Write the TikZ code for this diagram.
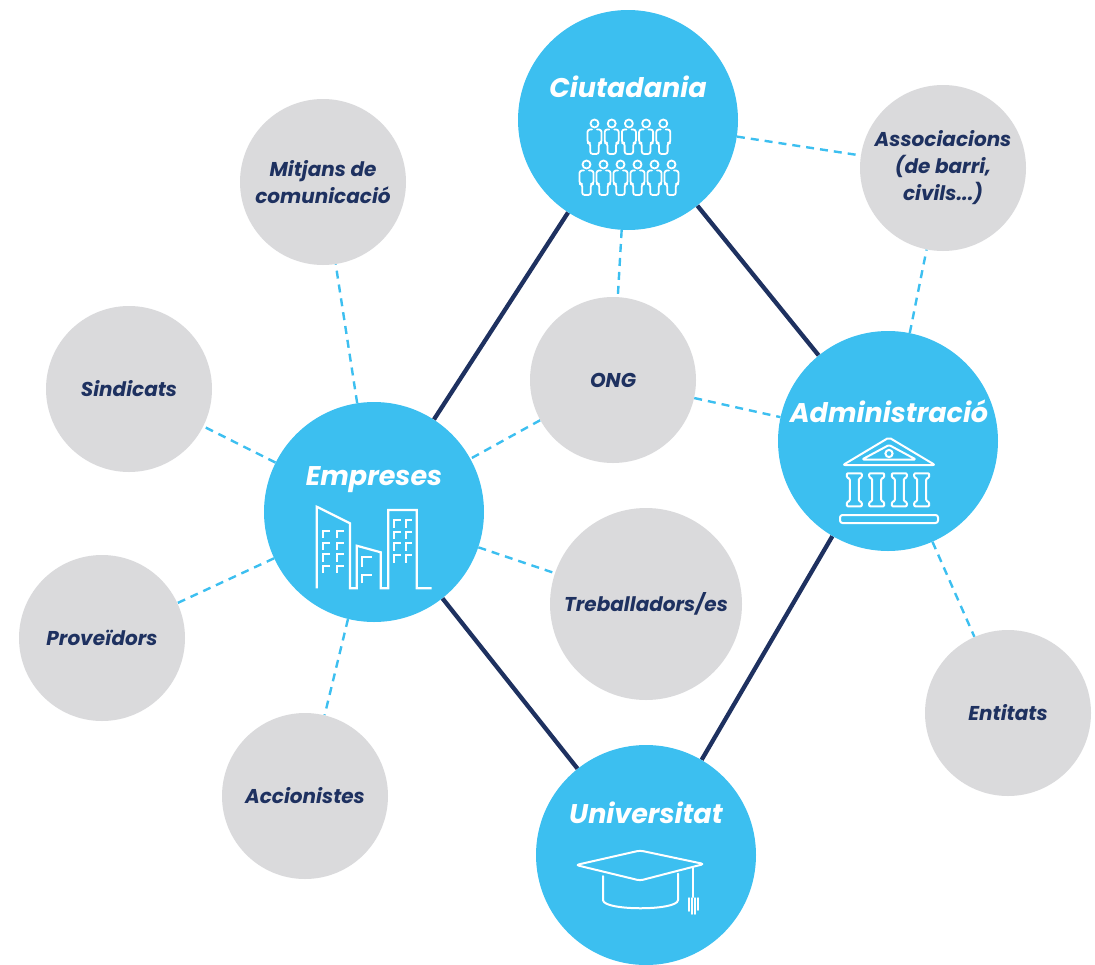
\documentclass[tikz,border=0pt]{standalone}
\usepackage{fontspec}
\setmainfont{Poppins}
\usetikzlibrary{backgrounds}
\definecolor{cblue}{HTML}{3CBFF0}
\definecolor{cgrey}{HTML}{DADADC}
\definecolor{navy}{HTML}{1E3160}
\tikzset{
  bluec/.style={circle, fill=cblue, minimum size=220pt, inner sep=0pt},
  greyc/.style={circle, fill=cgrey, minimum size=166pt, inner sep=0pt, align=center,
     text=navy, font=\fontsize{20}{27}\selectfont\bfseries\itshape},
  bluelabel/.style={anchor=base, text=white, inner sep=0pt, font=\fontsize{27}{32}\selectfont\bfseries\itshape},
  strongline/.style={draw=navy, line width=4.3pt},
  weakline/.style={draw=cblue, line width=2.4pt, dash pattern=on 8pt off 6pt},
  icon/.style={draw=white, line width=2pt, line join=round, line cap=round},
}
\begin{document}
\begin{tikzpicture}[x=1pt,y=-1pt]
\useasboundingbox (0,0) rectangle (1095,964);
% main circles
\node[bluec] (ciu) at (628,120) {};
\node[bluec] (emp) at (374,512) {};
\node[bluec] (adm) at (888,441) {};
\node[bluec] (uni) at (646,855) {};
% grey circles
\node[greyc] (mit) at (323,182) {Mitjans de\\comunicació};
\node[greyc] (ass) at (943,168) {Associacions\\(de barri,\\civils...)};
\node[greyc] (sin) at (129,389) {Sindicats};
\node[greyc] (ong) at (613,380) {ONG};
\node[greyc] (pro) at (102,638) {Proveïdors};
\node[greyc] (acc) at (305,796) {Accionistes};
\node[greyc, minimum size=192pt] (tre) at (646,604) {Treballadors/es};
\node[greyc] (ent) at (1008,713) {Entitats};
% connectors
\begin{scope}[on background layer]
\draw[strongline] (ciu) -- (emp);
\draw[strongline] (ciu) -- (adm);
\draw[strongline] (emp) -- (uni);
\draw[strongline] (adm) -- (uni);
\draw[weakline] (ciu) -- (ass);
\draw[weakline] (ciu) -- (ong);
\draw[weakline] (ong) -- (adm);
\draw[weakline] (ong) -- (emp);
\draw[weakline] (emp) -- (mit);
\draw[weakline] (emp) -- (sin);
\draw[weakline] (emp) -- (pro);
\draw[weakline] (emp) -- (acc);
\draw[weakline] (emp) -- (tre);
\draw[weakline] (adm) -- (ass);
\draw[weakline] (adm) -- (ent);
\end{scope}
% labels of main circles
\node[bluelabel] (ciul) at (628,97) {Ciutadania};
\node[bluelabel] (empl) at (374,485) {Empreses};
\node[bluelabel] (adml) at (889,422) {Administració};
\node[bluelabel] (unil) at (646,823) {Universitat};
% people icon
\foreach \px/\py in {594.5/119, 611.7/119, 628.9/119, 646.1/119, 663.3/119,
                     586.5/160, 603.5/160, 620.5/160, 637.5/160, 654.5/160, 671.5/160}{
  \begin{scope}[shift={(\px,\py)}]
    \draw[icon, line width=1.8pt] (0,4.5) circle[radius=4pt];
    \draw[icon, line width=1.8pt, rounded corners=2.5pt] (-2.5,10.5) -- (-7,10.5) -- (-7,24) -- (-4.3,24) -- (-4.3,35) -- (4.3,35) -- (4.3,24) -- (7,24) -- (7,10.5) -- (2.5,10.5);
  \end{scope}
}
% buildings icon
\draw[icon, line width=2.2pt, line cap=butt, line join=miter] (316.7,588.3) -- (316.7,506.7) -- (350,523.3) -- (350,588.3) -- (356.7,588.3) -- (356.7,545.7) -- (380.7,552.3) -- (380.7,588.3) -- (388.3,588.3) -- (388.3,510) -- (416.7,510) -- (416.7,588.3) -- (431.7,588.3);
\foreach \wx in {323.3, 337.3}{
  \foreach \wy in {530.7, 542.7, 554, 565.7}{
    \draw[icon, line width=2pt, line cap=butt, line join=miter] (\wx,\wy+7.5) -- (\wx,\wy) -- (\wx+6.5,\wy);
  }
}
\foreach \wx in {394.3, 405.7}{
  \foreach \wy in {520, 531.7, 543.3, 555}{
    \draw[icon, line width=2pt, line cap=butt, line join=miter] (\wx,\wy+7.5) -- (\wx,\wy) -- (\wx+6.5,\wy);
  }
}
\draw[icon, line width=2pt, line cap=butt, line join=miter] (361.7,566.7) -- (361.7,556.7) -- (371.7,556.7);
\draw[icon, line width=2pt, line cap=butt, line join=miter] (361.7,583.3) -- (361.7,575) -- (371.7,575);
% temple icon
\draw[icon, rounded corners=2pt] (843,465) -- (889,437.5) -- (935,465) -- cycle;
\draw[icon, rounded corners=1.5pt] (862,459.5) -- (889,445) -- (916,459.5) -- cycle;
\draw[icon] (889,453.5) circle[radius=3.6pt];
\foreach \cx in {854.3, 876.7, 899.3, 921.7}{
  \draw[icon, rounded corners=1pt, shift={(\cx,473.3)}] (-7.5,0) -- (7.5,0) -- (7.5,4) -- (4.5,5.5) -- (4.5,27.5) -- (7.5,29) -- (7.5,33) -- (-7.5,33) -- (-7.5,29) -- (-4.5,27.5) -- (-4.5,5.5) -- (-7.5,4) -- cycle;
}
\draw[icon, rounded corners=2.5pt] (840,515) rectangle (938,523);
% graduation cap icon
\draw[icon, rounded corners=3pt] (576,865) -- (640,850.5) -- (704,864) -- (640,880.5) -- cycle;
\draw[icon] (603,876) -- (603,900) .. controls (603,911) and (678,911) .. (678,900) -- (678,873.5);
\draw[icon] (693,868) -- (693,897);
\draw[icon, line width=1.5pt] (689,898) -- (689,911);
\draw[icon, line width=1.5pt] (692,898) -- (692,914);
\draw[icon, line width=1.5pt] (695,898) -- (695,914);
\draw[icon, line width=1.5pt] (698,898) -- (698,910);
\end{tikzpicture}
\end{document}
